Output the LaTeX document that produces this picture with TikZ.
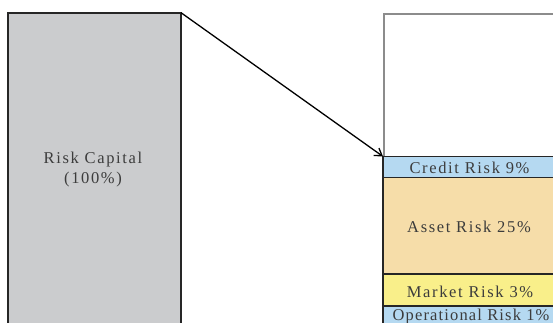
\documentclass[tikz,border=0pt]{standalone}
\usepackage{fontspec}
\setmainfont{Liberation Serif}
\newfontfamily\spaced[LetterSpace=10]{Liberation Serif}
\newfontfamily\tightspaced[LetterSpace=7]{Liberation Serif}
\usetikzlibrary{arrows.meta}
\definecolor{capgray}{HTML}{CBCCCE}
\definecolor{creditblue}{HTML}{B5D9F1}
\definecolor{assetbeige}{HTML}{F6DDA9}
\definecolor{marketyellow}{HTML}{F9EF8A}
\definecolor{outlinegray}{HTML}{8C8C8C}
\definecolor{textgray}{HTML}{3C3C3C}
\tikzset{
  band/.style={draw=black!85, line width=1.4pt, anchor=north west, inner sep=0pt, outer sep=0pt},
  lbl/.style={text=textgray, font=\spaced\fontsize{16.5}{20}\selectfont, align=center},
}
\begin{document}
\begin{tikzpicture}[x=1pt,y=1pt]
\useasboundingbox (0,0) rectangle (553,-323);
\clip (0,0) rectangle (553,-323);
\fill[white] (0,0) rectangle (553,-323);
% left box
\node[band, fill=capgray, line width=2pt, minimum width=173.5pt, minimum height=330pt] (cap) at (7.5,-12.7) {};
\node[lbl] (captxt) at (93,-170) {Risk Capital\\(100\%)};
% right outline box
\node[draw=outlinegray, line width=2.2pt, anchor=north west, inner sep=0pt, minimum width=190pt, minimum height=150pt] (total) at (383,-13) {};
% bands
\node[band, fill=creditblue, minimum width=190pt, minimum height=21pt] (credit) at (383,-156.5) {};
\node[band, fill=assetbeige, minimum width=190pt, minimum height=96.5pt] (asset) at (383,-177.5) {};
\node[band, fill=marketyellow, minimum width=190pt, minimum height=32pt] (market) at (383,-274) {};
\node[band, fill=creditblue, minimum width=190pt, minimum height=30pt] (oper) at (383,-306) {};
\node[lbl] (credittxt) at (469.5,-168) {Credit Risk 9\%};
\node[lbl] (assettxt) at (469,-226.5) {Asset Risk 25\%};
\node[lbl] (markettxt) at (470,-291.5) {Market Risk 3\%};
\node[lbl, font=\tightspaced\fontsize{16.5}{20}\selectfont] (opertxt) at (471,-317) {Operational Risk 1\%};
% arrow
\draw[line width=1.3pt, -{Straight Barb[length=7pt,width=9pt]}] (cap.north east) -- (credit.north west);
\end{tikzpicture}
\end{document}
